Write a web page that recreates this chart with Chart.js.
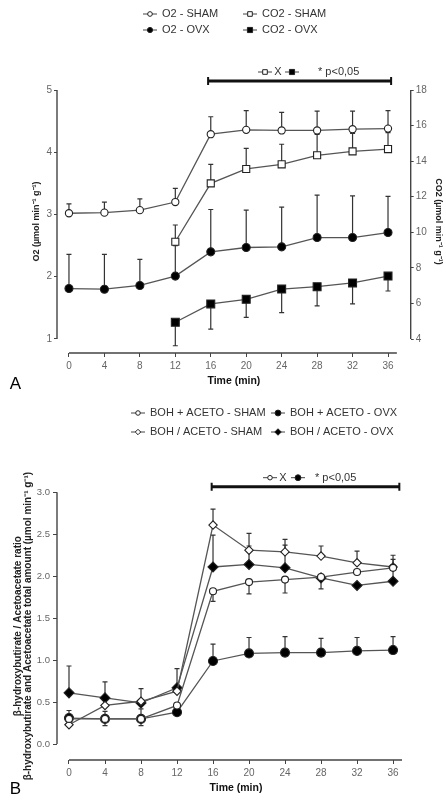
<!DOCTYPE html>
<html>
<head>
<meta charset="utf-8">
<script src="https://cdn.jsdelivr.net/npm/chart.js@4.4.1/dist/chart.umd.min.js"></script>
<style>
html, body { margin: 0; padding: 0; background: #fff; }
#wrap { position: relative; width: 446px; height: 800px; overflow: hidden; }
.box { position: absolute; left: 0; width: 446px; height: 400px; }
</style>
</head>
<body>
<div id="wrap">
  <div class="box" style="top:0"><canvas id="chartA" width="446" height="400"></canvas></div>
  <div class="box" style="top:400px"><canvas id="chartB" width="446" height="400"></canvas></div>
</div>
<script>
// ---- data ----
const times = [0, 4, 8, 12, 16, 20, 24, 28, 32, 36]
const xTicks = [0, 4, 8, 12, 16, 20, 24, 28, 32, 36]
const o2Ticks = [1, 2, 3, 4, 5]
const co2Ticks = [4, 6, 8, 10, 12, 14, 16, 18]
const ketoTicks = [0, 0.5, 1, 1.5, 2, 2.5, 3]

// panel A (O2 left axis, CO2 right axis)
const o2Sham = [3.02, 3.03, 3.07, 3.20, 4.29, 4.36, 4.35, 4.35, 4.37, 4.38]
const o2ShamHi = [3.17, 3.20, 3.25, 3.42, 4.57, 4.67, 4.64, 4.66, 4.66, 4.67]
const o2Ovx = [1.81, 1.80, 1.86, 2.01, 2.40, 2.47, 2.48, 2.63, 2.63, 2.71]
const o2OvxHi = [2.36, 2.36, 2.28, 2.50, 3.08, 3.07, 3.12, 3.31, 3.30, 3.29]
const co2Sham = [null, null, null, 9.47, 12.75, 13.56, 13.82, 14.33, 14.55, 14.68]
const co2ShamHi = [null, null, null, 10.41, 13.82, 14.72, 14.95, 15.50, 15.56, 15.60]
const co2Ovx = [null, null, null, 4.94, 5.97, 6.23, 6.81, 6.94, 7.15, 7.54]
const co2OvxLo = [null, null, null, 3.62, 4.56, 5.22, 5.48, 5.86, 5.97, 6.70]
const sigA = [15.7, 36.35]

// panel B (ketone bodies)
const sumSham = [0.30, 0.30, 0.30, 0.46, 1.82, 1.93, 1.96, 1.99, 2.05, 2.10]
const sumShamLo = [null, null, null, null, 1.70, 1.79, 1.80, 1.85, null, null]
const ratioSham = [0.23, 0.46, 0.51, 0.63, 2.61, 2.31, 2.29, 2.24, 2.16, 2.11]
const ratioShamHi = [null, null, null, null, 2.80, 2.51, 2.44, 2.36, 2.30, 2.25]
const sumOvx = [0.31, 0.30, 0.30, 0.38, 0.99, 1.08, 1.09, 1.09, 1.11, 1.12]
const sumOvxHi = [0.40, 0.39, 0.42, null, 1.19, 1.27, 1.28, 1.26, 1.27, 1.28]
const sumOvxLo = [null, 0.22, 0.22, null, null, null, null, null, null, null]
const ratioOvx = [0.61, 0.55, 0.49, 0.67, 2.11, 2.14, 2.10, 1.98, 1.89, 1.94]
const ratioOvxHi = [0.93, 0.74, 0.66, 0.90, 2.49, 2.36, 2.37, null, null, 2.20]
const sigB = [15.85, 36.7]

const narrow = '"Liberation Sans Narrow", "Arial Narrow", "Liberation Sans", Arial, sans-serif'
const plain = '"Liberation Sans", Arial, sans-serif'
Chart.defaults.font.family = narrow
Chart.defaults.color = '#666'
Chart.defaults.animation = false

function series(label, vals, style, fill, r, axis, hi, lo) {
  return {
    label: label,
    yAxisID: axis,
    data: times.map((t, i) => ({ x: t, y: vals[i] })),
    errHi: hi,
    errLo: lo,
    borderColor: '#555',
    borderWidth: 1.3,
    tension: 0,
    pointStyle: style,
    pointRadius: r,
    pointBackgroundColor: fill,
    pointBorderColor: '#222',
    pointBorderWidth: 1.1,
    clip: false
  }
}

function drawMark(ctx, style, x, y, r, fill) {
  ctx.beginPath()
  if (style === 'rect') {
    const s = r * Math.SQRT1_2
    ctx.rect(x - s, y - s, 2 * s, 2 * s)
  } else if (style === 'rectRot') {
    ctx.moveTo(x - r, y); ctx.lineTo(x, y - r); ctx.lineTo(x + r, y); ctx.lineTo(x, y + r); ctx.closePath()
  } else {
    ctx.arc(x, y, r, 0, Math.PI * 2)
  }
  ctx.fillStyle = fill
  ctx.fill()
  ctx.strokeStyle = '#222'
  ctx.lineWidth = 1
  ctx.stroke()
}

// error bars, drawn under the lines
const errorBars = {
  id: 'errorBars',
  beforeDatasetsDraw(chart) {
    const ctx = chart.ctx
    chart.data.datasets.forEach((ds, i) => {
      const meta = chart.getDatasetMeta(i)
      const ys = chart.scales[ds.yAxisID]
      ;[ds.errHi, ds.errLo].forEach(arr => {
        if (!arr) return
        arr.forEach((v, j) => {
          if (v == null || ds.data[j].y == null) return
          const p = meta.data[j]
          const y2 = ys.getPixelForValue(v)
          ctx.save()
          ctx.strokeStyle = '#333'
          ctx.lineWidth = 1.2
          ctx.beginPath()
          ctx.moveTo(p.x, p.y); ctx.lineTo(p.x, y2)
          ctx.moveTo(p.x - 2.5, y2); ctx.lineTo(p.x + 2.5, y2)
          ctx.stroke()
          ctx.restore()
        })
      })
    })
  }
}

// detached axis lines, legend, significance bar, panel letter
const decor = {
  id: 'decor',
  afterDraw(chart, args, o) {
    const ctx = chart.ctx, a = chart.chartArea, s = chart.scales
    ctx.save()
    ctx.strokeStyle = '#444'
    ctx.lineWidth = 1.4
    ctx.beginPath()
    ctx.moveTo(s.x.getPixelForValue(o.xLine[0]), a.bottom); ctx.lineTo(s.x.getPixelForValue(o.xLine[1]), a.bottom)
    ctx.moveTo(a.left, s.y.getPixelForValue(o.yLine[0])); ctx.lineTo(a.left, s.y.getPixelForValue(o.yLine[1]))
    if (o.y1Line) {
      ctx.moveTo(a.right, s.y1.getPixelForValue(o.y1Line[0])); ctx.lineTo(a.right, s.y1.getPixelForValue(o.y1Line[1]))
    }
    ctx.stroke()

    // legend, two columns by two rows
    ctx.textBaseline = 'middle'
    ctx.textAlign = 'left'
    ctx.font = o.legendFont
    chart.data.datasets.forEach((ds, i) => {
      const x = o.cols[Math.floor(i / 2)], y = o.rows[i % 2]
      ctx.strokeStyle = '#444'; ctx.lineWidth = 1
      ctx.beginPath(); ctx.moveTo(x - 7, y); ctx.lineTo(x + 7, y); ctx.stroke()
      drawMark(ctx, ds.pointStyle, x, y, ds.pointRadius * 0.65, ds.pointBackgroundColor)
      ctx.fillStyle = '#333'
      ctx.fillText(ds.label, x + 12, y)
    })

    // significance bar
    const x1 = s.x.getPixelForValue(o.sig[0]), x2 = s.x.getPixelForValue(o.sig[1])
    ctx.strokeStyle = '#111'
    ctx.lineWidth = 3
    ctx.beginPath(); ctx.moveTo(x1, o.barY); ctx.lineTo(x2, o.barY); ctx.stroke()
    ctx.lineWidth = 2
    ctx.beginPath()
    ctx.moveTo(x1, o.barY - 4); ctx.lineTo(x1, o.barY + 4)
    ctx.moveTo(x2, o.barY - 4); ctx.lineTo(x2, o.barY + 4)
    ctx.stroke()
    const k1 = chart.data.datasets[o.pair[0]], k2 = chart.data.datasets[o.pair[1]]
    ;[[k1, o.keyX[0]], [k2, o.keyX[2]]].forEach(([ds, kx]) => {
      ctx.strokeStyle = '#444'; ctx.lineWidth = 1
      ctx.beginPath(); ctx.moveTo(kx - 7, o.keyY); ctx.lineTo(kx + 7, o.keyY); ctx.stroke()
      drawMark(ctx, ds.pointStyle, kx, o.keyY, ds.pointRadius * 0.65, ds.pointBackgroundColor)
    })
    ctx.fillStyle = '#333'
    ctx.font = o.legendFont
    ctx.textAlign = 'center'
    ctx.fillText('X', o.keyX[1], o.keyY)
    ctx.textAlign = 'left'
    ctx.fillText('* p<0,05', o.keyX[3], o.keyY)

    // panel letter
    ctx.fillStyle = '#000'
    ctx.font = '17px ' + plain
    ctx.textAlign = 'center'
    ctx.fillText(o.letter, o.letterXY[0], o.letterXY[1])
    ctx.restore()
  }
}

function fixedTicks(list) {
  return s => { s.ticks = list.map(v => ({ value: v })) }
}

// ---------------- panel A ----------------
new Chart(document.getElementById('chartA'), {
  type: 'line',
  data: {
    datasets: [
      series('O2 - SHAM', o2Sham, 'circle', '#fff', 3.6, 'y', o2ShamHi, null),
      series('O2 - OVX', o2Ovx, 'circle', '#000', 4, 'y', o2OvxHi, null),
      series('CO2 - SHAM', co2Sham, 'rect', '#fff', 5, 'y1', co2ShamHi, null),
      series('CO2 - OVX', co2Ovx, 'rect', '#000', 5.6, 'y1', null, co2OvxLo)
    ]
  },
  options: {
    responsive: false,
    layout: { padding: { top: 90, left: 0, right: 0, bottom: 0 } },
    plugins: {
      legend: { display: false },
      tooltip: { enabled: false },
      decor: {
        xLine: [0, 37], yLine: [1, 5], y1Line: [4, 18],
        cols: [150, 250], rows: [14, 30], legendFont: '11px ' + narrow,
        sig: sigA, barY: 81, keyY: 72, pair: [2, 3], keyX: [265, 278, 292, 318],
        letter: 'A', letterXY: [15.5, 384]
      }
    },
    scales: {
      x: {
        type: 'linear', min: -1.35, max: 38.56,
        afterBuildTicks: fixedTicks(xTicks),
        afterFit: s => { s.height = 47 },
        border: { display: false },
        grid: { drawOnChartArea: false, tickLength: 4, color: '#444' },
        ticks: { padding: 3, autoSkip: false, maxRotation: 0, font: { size: 10 } },
        title: { display: true, text: 'Time (min)', color: '#111', font: { size: 10.5, weight: 'bold' }, padding: { top: 0, bottom: 12.5 } }
      },
      y: {
        position: 'left', min: 0.775, max: 5,
        afterBuildTicks: fixedTicks(o2Ticks),
        afterFit: s => { s.width = 57 },
        border: { display: false },
        grid: { drawOnChartArea: false, tickLength: 3, color: '#444' },
        ticks: { padding: 2, font: { size: 10 } },
        title: { display: true, text: 'O2 (µmol min⁻¹ g⁻¹)', color: '#222', font: { family: plain, size: 9, weight: 'bold' }, padding: { top: 31.5, bottom: 0 } }
      },
      y1: {
        position: 'right', min: 3.213, max: 18,
        afterBuildTicks: fixedTicks(co2Ticks),
        afterFit: s => { s.width = 35.3 },
        border: { display: false },
        grid: { drawOnChartArea: false, tickLength: 3, color: '#444' },
        ticks: { padding: 2, font: { size: 10 } },
        title: { display: true, text: 'CO2 (µmol min⁻¹ g⁻¹)', color: '#222', font: { family: plain, size: 9, weight: 'bold' }, padding: { top: 2.5, bottom: 0 } }
      }
    }
  },
  plugins: [errorBars, decor]
})

// ---------------- panel B ----------------
new Chart(document.getElementById('chartB'), {
  type: 'line',
  data: {
    datasets: [
      series('BOH + ACETO - SHAM', sumSham, 'circle', '#fff', 3.5, 'y', null, sumShamLo),
      series('BOH / ACETO - SHAM', ratioSham, 'rectRot', '#fff', 4.2, 'y', ratioShamHi, null),
      series('BOH + ACETO - OVX', sumOvx, 'circle', '#000', 4.5, 'y', sumOvxHi, sumOvxLo),
      series('BOH / ACETO - OVX', ratioOvx, 'rectRot', '#000', 5, 'y', ratioOvxHi, null)
    ]
  },
  options: {
    responsive: false,
    layout: { padding: { top: 92.3, left: 0, right: 31, bottom: 0 } },
    plugins: {
      legend: { display: false },
      tooltip: { enabled: false },
      decor: {
        xLine: [0, 37], yLine: [0, 3],
        cols: [138, 278], rows: [13, 32], legendFont: '11px ' + narrow,
        sig: sigB, barY: 86.7, keyY: 77.7, pair: [0, 2], keyX: [270, 283, 298, 315],
        letter: 'B', letterXY: [15.5, 389]
      }
    },
    scales: {
      x: {
        type: 'linear', min: -1.333, max: 38.44,
        afterBuildTicks: fixedTicks(xTicks),
        afterFit: s => { s.height = 40 },
        border: { display: false },
        grid: { drawOnChartArea: false, tickLength: 4, color: '#444' },
        ticks: { padding: 3, autoSkip: false, maxRotation: 0, font: { size: 10 } },
        title: { display: true, text: 'Time (min)', color: '#111', font: { size: 10.5, weight: 'bold' }, padding: { top: 0, bottom: 5.7 } }
      },
      y: {
        position: 'left', min: -0.19, max: 3,
        afterBuildTicks: fixedTicks(ketoTicks),
        afterFit: s => { s.width = 57 },
        border: { display: false },
        grid: { drawOnChartArea: false, tickLength: 4, color: '#444' },
        ticks: { padding: 3, font: { size: 9.5 }, callback: v => v.toFixed(1) },
        title: {
          display: true,
          text: ['β-hydroxybutirate / Acetoacetate ratio', 'β-hydroxybutirate and Acetoacetate total amount (µmol min⁻¹ g⁻¹)'],
          color: '#222', font: { family: plain, size: 10, weight: 'bold', lineHeight: 1.0 }, padding: { top: 13.5, bottom: 0 }
        }
      }
    }
  },
  plugins: [errorBars, decor]
})
</script>
</body>
</html>
